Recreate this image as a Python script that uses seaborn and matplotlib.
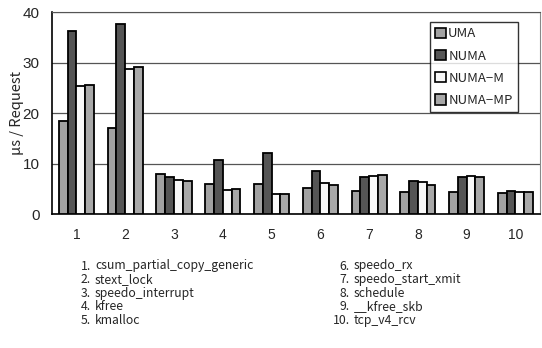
import matplotlib
matplotlib.use("Agg")
import matplotlib.pyplot as plt
import seaborn as sns
import pandas as pd
from matplotlib.patches import Patch

# Per-function cost (microseconds per request) for each memory configuration
functions = ["1", "2", "3", "4", "5", "6", "7", "8", "9", "10"]
configs = ["UMA", "NUMA", "NUMA\u2212M", "NUMA\u2212MP"]
uma = [18.5, 17.1, 8.0, 5.9, 5.9, 5.2, 4.5, 4.3, 4.3, 4.2]
numa = [36.3, 37.7, 7.3, 10.7, 12.1, 8.6, 7.3, 6.5, 7.3, 4.5]
numa_m = [25.4, 28.8, 6.8, 4.7, 3.9, 6.2, 7.5, 6.3, 7.5, 4.4]
numa_mp = [25.5, 29.2, 6.6, 4.9, 3.9, 5.7, 7.7, 5.8, 7.3, 4.3]
names = ["csum_partial_copy_generic", "stext_lock", "speedo_interrupt", "kfree",
         "kmalloc", "speedo_rx", "speedo_start_xmit", "schedule", "__kfree_skb",
         "tcp_v4_rcv"]
colors = ["#a2a2a2", "#555555", "#f8f8f8", "#a8a8a8"]

rows = []
for cfg, vals in zip(configs, [uma, numa, numa_m, numa_mp]):
    for f, v in zip(functions, vals):
        rows.append({"function": f, "config": cfg, "value": v})
df = pd.DataFrame(rows)

sns.set_style("white")
plt.rcParams["font.family"] = ["Noto Sans CJK JP", "DejaVu Sans"]
num_font = ["Liberation Sans", "DejaVu Sans"]

fig = plt.figure(figsize=(5.42, 3.48), dpi=100)
ax = fig.add_axes([0.096, 0.385, 0.900, 0.5805])

sns.barplot(data=df, x="function", y="value", hue="config", order=functions,
            hue_order=configs, palette=colors, width=0.72, edgecolor="black",
            linewidth=1.3, saturation=1, ax=ax, legend=False, zorder=3)

ax.set_xlim(-0.5, 9.5)
ax.set_ylim(0, 40)
ax.set_yticks([0, 10, 20, 30, 40])
ax.yaxis.grid(True, color="#555555", linewidth=0.9, zorder=0)
ax.set_axisbelow(True)
ax.tick_params(axis="y", length=0, labelsize=11, pad=9)
ax.tick_params(axis="x", which="major", length=0, labelsize=10, pad=10)
for lab in ax.get_yticklabels() + ax.get_xticklabels():
    lab.set_fontfamily(num_font)
ax.set_xticks([i + 0.5 for i in range(9)], minor=True)
ax.tick_params(axis="x", which="minor", direction="in", length=4, width=1, color="#555555")
ax.set_xlabel("")
ax.set_ylabel("\u03bcs / Request", fontsize=10.5)
ax.yaxis.set_label_coords(-0.058, 0.5)

for side in ["left", "bottom"]:
    ax.spines[side].set_color("black")
    ax.spines[side].set_linewidth(1.2)
ax.spines["top"].set_color("#555555")
ax.spines["right"].set_color("#888888")

handles = [Patch(facecolor=c, edgecolor="black", linewidth=1.2) for c in colors]
leg = ax.legend(handles, configs, loc="upper right", bbox_to_anchor=(0.955, 0.95),
                frameon=True, fancybox=False, edgecolor="black", fontsize=9.5,
                handlelength=0.8, handleheight=0.8, handletextpad=0.2,
                labelspacing=0.7, borderpad=0.4, borderaxespad=0)
leg.get_frame().set_linewidth(1.0)

# Function name key below the chart
for i, name in enumerate(names):
    if i < 5:
        xnum, y = 91, 266 + i * 13.6
    else:
        xnum, y = 350, 266 + (i - 5) * 13.6
    fig.text(xnum / 542, 1 - y / 348, f"{i + 1}.", ha="right", va="center", fontsize=8.8)
    fig.text((xnum + 4) / 542, 1 - y / 348, name, ha="left", va="center", fontsize=8.8)

fig.savefig("out.png", dpi=100)
